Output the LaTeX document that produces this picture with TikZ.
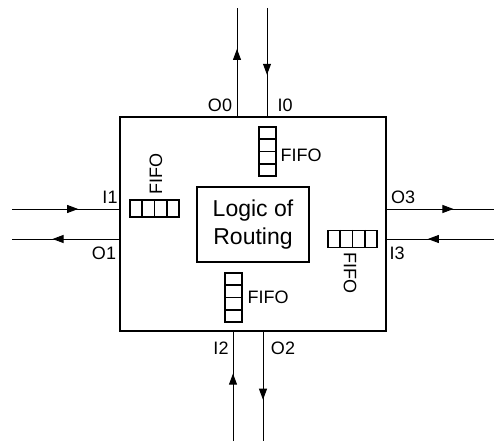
\documentclass[tikz,border=0pt]{standalone}
\usepackage{fontspec}
\setmainfont{Liberation Sans}
\usetikzlibrary{arrows.meta,positioning,calc,decorations.markings}

\tikzset{
    wire/.style={line width=0.9pt, postaction={decorate},
        decoration={markings, mark=at position 0.62 with {\arrow{Triangle[length=11pt,width=8pt]}}}},
    portlabel/.style={font=\fontsize{18}{20}\selectfont, inner sep=0pt},
    fifolabel/.style={font=\fontsize{18}{20}\selectfont, inner sep=0pt},
    fifov/.style={draw, line width=1.3pt, minimum width=17pt, minimum height=49pt, inner sep=0pt},
    fifoh/.style={draw, line width=1.3pt, minimum width=49pt, minimum height=17pt, inner sep=0pt}
}

\begin{document}
\begin{tikzpicture}[x=1pt, y=-1pt]
    \useasboundingbox (0,0) rectangle (494,441);

    % router
    \node[draw, line width=2.6pt, minimum width=266pt, minimum height=214pt] (router) at (253,224) {};

    % logic of routing
    \node[draw, line width=1.3pt, minimum width=112pt, minimum height=75pt, align=center,
          font=\fontsize{23}{28}\selectfont] (logic) at (253,224.5) {Logic of\\Routing};

    % fifos
    \node[fifov] (fifoT) at (267.5,151.5) {};
    \node[fifov] (fifoB) at (233.5,297.5) {};
    \node[fifoh] (fifoL) at (154.5,208.5) {};
    \node[fifoh] (fifoR) at (352.5,239) {};
    \foreach \f in {fifoT,fifoB} {
        \foreach \k in {1,2,3}
            \draw[line width=1.3pt] ($(\f.north west)!\k/4!(\f.south west)$) -- ($(\f.north east)!\k/4!(\f.south east)$);
    }
    \foreach \f in {fifoL,fifoR} {
        \foreach \k in {1,2,3}
            \draw[line width=1.3pt] ($(\f.north west)!\k/4!(\f.north east)$) -- ($(\f.south west)!\k/4!(\f.south east)$);
    }
    \node[fifolabel] (txtT) at (301,155) {FIFO};
    \node[fifolabel] (txtB) at (268,297) {FIFO};
    \node[fifolabel, rotate=90] (txtL) at (156,174) {FIFO};
    \node[fifolabel, rotate=-90] (txtR) at (350,273) {FIFO};

    % outer ends of the wires
    \coordinate (o0) at (237,8);
    \coordinate (i0) at (267,8);
    \coordinate (i1) at (12,209);
    \coordinate (o1) at (12,239);
    \coordinate (o3) at (494,209);
    \coordinate (i3) at (494,239);
    \coordinate (i2) at (233,441);
    \coordinate (o2) at (263,441);

    % wires
    \draw[wire] (router.north -| o0) -- (o0);
    \draw[wire] (i0) -- (router.north -| i0);
    \draw[wire] (i1) -- (router.west |- i1);
    \draw[wire] (router.west |- o1) -- (o1);
    \draw[wire] (router.east |- o3) -- (o3);
    \draw[wire] (i3) -- (router.east |- i3);
    \draw[wire] (i2) -- (router.south -| i2);
    \draw[wire] (router.south -| o2) -- (o2);

    % port labels
    \node[portlabel] (lo0) at (220,105) {O0};
    \node[portlabel] (li0) at (285,105) {I0};
    \node[portlabel] (li1) at (110,197) {I1};
    \node[portlabel] (lo1) at (104,253) {O1};
    \node[portlabel] (lo3) at (403,197) {O3};
    \node[portlabel] (li3) at (397,253) {I3};
    \node[portlabel] (li2) at (221,348) {I2};
    \node[portlabel] (lo2) at (283,348) {O2};
\end{tikzpicture}
\end{document}
